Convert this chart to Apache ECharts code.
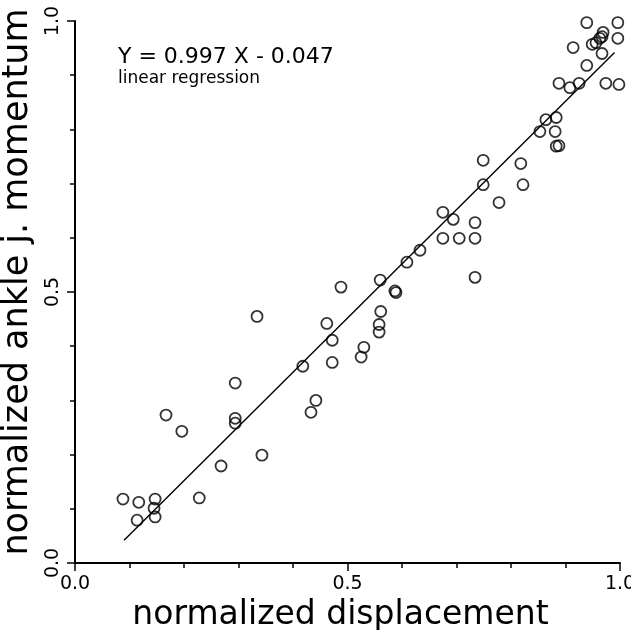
<!DOCTYPE html>
<html>
<head>
<meta charset="utf-8">
<script src="https://cdn.jsdelivr.net/npm/echarts@6/dist/echarts.min.js"></script>
<style>
  html, body { margin: 0; padding: 0; background: #fff; }
  #chart { width: 631px; height: 630px; }
</style>
</head>
<body>
<div id="chart"></div>
<script>
// measured points (normalized displacement, normalized ankle j. momentum)
const dispX = [
  0.088, 0.117, 0.147, 0.145, 0.147, 0.114, 0.228, 0.167, 0.196, 0.294,
  0.294, 0.294, 0.343, 0.268, 0.334, 0.462, 0.561, 0.558, 0.558, 0.472,
  0.530, 0.525, 0.418, 0.472, 0.442, 0.433, 0.560, 0.589, 0.587, 0.609,
  0.633, 0.675, 0.694, 0.734, 0.675, 0.705, 0.734, 0.734, 0.749, 0.749,
  0.778, 0.818, 0.822, 0.864, 0.883, 0.853, 0.881, 0.883, 0.888, 0.888,
  0.908, 0.925, 0.974, 0.998, 0.939, 0.914, 0.949, 0.956, 0.967, 0.969,
  0.967, 0.963, 0.939, 0.996, 0.996, 0.488
];
const momY = [
  0.118, 0.112, 0.118, 0.101, 0.085, 0.079, 0.120, 0.273, 0.243, 0.332,
  0.267, 0.258, 0.199, 0.179, 0.455, 0.442, 0.464, 0.440, 0.426, 0.411,
  0.398, 0.380, 0.363, 0.370, 0.300, 0.278, 0.522, 0.499, 0.502, 0.555,
  0.577, 0.647, 0.634, 0.628, 0.599, 0.599, 0.599, 0.527, 0.743, 0.698,
  0.665, 0.737, 0.698, 0.818, 0.822, 0.796, 0.796, 0.769, 0.770, 0.885,
  0.877, 0.885, 0.885, 0.883, 0.918, 0.951, 0.957, 0.960, 0.940, 0.979,
  0.971, 0.968, 0.997, 0.997, 0.968, 0.509
];
// regression line end points
const fitX = [0.09, 0.99];
const fitY = [0.042, 0.942];
const tickLabels = ['0.0', '0.5', '1.0'];

const font = 'DejaVu Sans';
const chart = echarts.init(document.getElementById('chart'));

const axisCommon = {
  type: 'value',
  min: 0,
  max: 1,
  interval: 0.5,
  nameLocation: 'middle',
  splitLine: { show: false },
  axisLine: { show: true, lineStyle: { color: '#000', width: 2 } },
  axisTick: { show: true, length: 8, lineStyle: { color: '#000', width: 1.5 } },
  minorTick: { show: true, splitNumber: 5, length: 5, lineStyle: { color: '#000', width: 1.5 } },
  axisLabel: {
    color: '#000', fontFamily: font, fontSize: 19,
    formatter: v => tickLabels[Math.round(v * 2)]
  }
};

chart.setOption({
  animation: false,
  backgroundColor: '#fff',
  grid: { left: 75, right: 11, top: 21, bottom: 67, outerBoundsMode: 'none' },
  xAxis: Object.assign({}, axisCommon, {
    name: 'normalized displacement',
    nameGap: 33,
    nameTextStyle: { color: '#000', fontFamily: font, fontSize: 33, padding: [0, 14, 0, 0] },
    axisLabel: Object.assign({}, axisCommon.axisLabel, { margin: 12 })
  }),
  yAxis: Object.assign({}, axisCommon, {
    name: 'normalized ankle j. momentum',
    nameGap: 40,
    nameTextStyle: { color: '#000', fontFamily: font, fontSize: 35, padding: [0, 0, 0, 20] },
    axisLabel: Object.assign({}, axisCommon.axisLabel, { rotate: 90, margin: 12 })
  }),
  graphic: [
    { type: 'text', left: 118, top: 46,
      style: { text: 'Y = 0.997 X - 0.047', fill: '#000', font: '22px "DejaVu Sans"' } },
    { type: 'text', left: 118, top: 70,
      style: { text: 'linear regression', fill: '#000', font: '17px "DejaVu Sans"' } }
  ],
  series: [
    {
      type: 'scatter',
      data: dispX.map((x, i) => [x, momY[i]]),
      symbol: 'circle',
      symbolSize: 11,
      clip: false,
      itemStyle: { color: 'rgba(255,255,255,0)', borderColor: '#000', borderWidth: 1.8 }
    },
    {
      type: 'line',
      data: fitX.map((x, i) => [x, fitY[i]]),
      symbol: 'none',
      lineStyle: { color: '#000', width: 1.4 }
    }
  ]
});
</script>
</body>
</html>
